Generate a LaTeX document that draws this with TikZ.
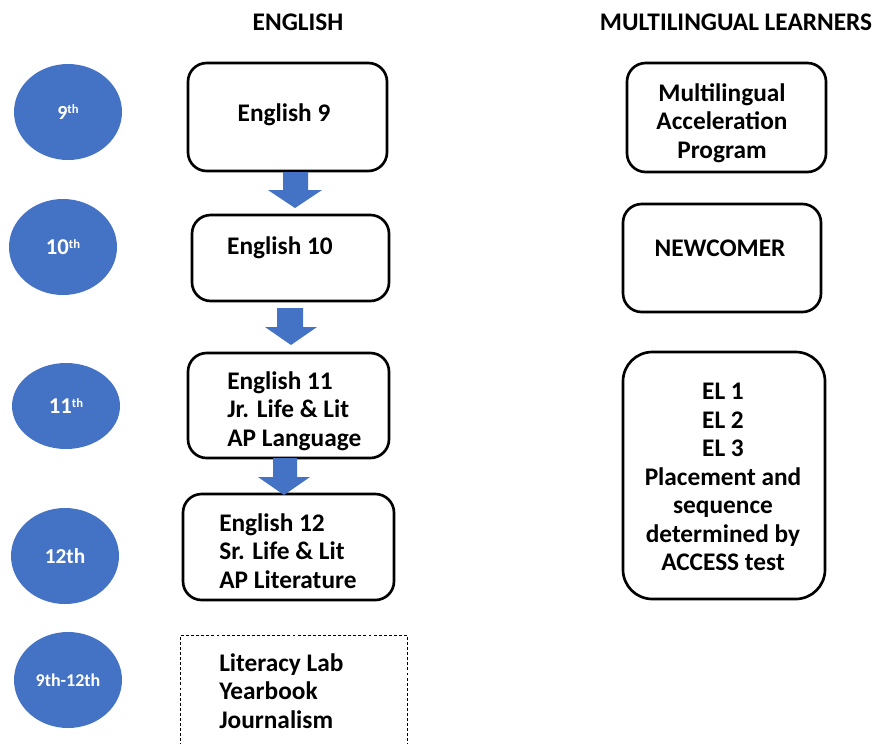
\documentclass[tikz,border=0pt]{standalone}
\usepackage{fontspec}
\setmainfont{Carlito}
\usetikzlibrary{shapes.geometric}
\definecolor{cblue}{HTML}{4472C4}
\newcommand{\supth}{\raisebox{0.6ex}{\fontsize{9.5}{10}\selectfont th}}
\begin{document}
\begin{tikzpicture}[x=0.75pt,y=-0.75pt,
  grade/.style={ellipse, fill=cblue, draw=none, text=white, inner sep=0pt,
    minimum width=81pt, minimum height=72pt, font=\bfseries\fontsize{17}{18}\selectfont},
  box/.style={draw=black, line width=2pt, rounded corners=14pt, inner sep=0pt},
  txt/.style={font=\bfseries\fontsize{19}{21.4}\selectfont, inner sep=0pt},
  title/.style={font=\bfseries\fontsize{19}{21}\selectfont, inner sep=0pt},
  blockarrow/.style={fill=cblue, draw=none}]
\useasboundingbox[fill=white] (0,0) rectangle (881,743);

% titles
\node[title] (t1) at (298,22) {ENGLISH};
\node[title] (t2) at (736,22) {MULTILINGUAL LEARNERS};

% grade circles
\node[grade, font=\bfseries\fontsize{15}{16}\selectfont] (g9) at (68,112) {9\supth};
\node[grade] (g10) at (63,247) {10\supth};
\node[grade, minimum height=64.5pt] (g11) at (66,406) {11\supth};
\node[grade, font=\bfseries\fontsize{16}{17}\selectfont] (g12) at (65,556) {12th};
\node[grade, font=\bfseries\fontsize{13.5}{14}\selectfont] (g912) at (68,680) {9th-12th};

% English boxes
\node[box, minimum width=149.25pt, minimum height=81pt] (e9) at (287.5,117) {};
\node[box, minimum width=147.75pt, minimum height=64.5pt] (e10) at (290.5,258) {};
\node[box, minimum width=150.75pt, minimum height=78.75pt] (e11) at (288.5,405.5) {};
\node[box, minimum width=158.25pt, minimum height=79.5pt] (e12) at (288.5,547) {};
\node[draw=black, line width=0.6pt, dash pattern=on 2.2pt off 1.6pt, inner sep=0pt,
      minimum width=170.25pt, minimum height=84pt, anchor=north west] (lab) at (180,635) {};

\node[txt] (e9t) at (284,115) {English 9};
\node[txt] (e10t) at (280,248) {English 10};
\node[txt, align=left, anchor=west] (e11t) at (227,411) {English 11\\Jr. Life \& Lit\\AP Language};
\node[txt, align=left, anchor=west] (e12t) at (219,551) {English 12\\Sr. Life \& Lit\\AP Literature};
\node[txt, align=left, anchor=west] (labt) at (219,691) {Literacy Lab\\Yearbook\\Journalism};

% block arrows
\fill[blockarrow] (283,172) -- (308,172) -- (308,190) -- (322,190) -- (295,208) -- (268,190) -- (283,190) -- cycle;
\fill[blockarrow] (277,308) -- (303,308) -- (303,327) -- (317,327) -- (291,345) -- (265,327) -- (277,327) -- cycle;
\fill[blockarrow] (273,458) -- (297,458) -- (297,477) -- (310,477) -- (284,495) -- (258,477) -- (273,477) -- cycle;

% Multilingual boxes
\node[box, minimum width=149.25pt, minimum height=81.75pt] (map) at (726.5,117.5) {};
\node[box, minimum width=148.5pt, minimum height=81pt] (new) at (722,258) {};
\node[box, minimum width=151.5pt, minimum height=185.25pt, rounded corners=22pt] (el) at (724,475.5) {};

\node[txt, align=center] (mapt) at (722,123) {Multilingual\\Acceleration\\Program};
\node[txt] (newt) at (720,248) {NEWCOMER};
\node[txt, align=center] (elt) at (723,477) {EL 1\\EL 2\\EL 3\\Placement and\\sequence\\determined by\\ACCESS test};
\end{tikzpicture}
\end{document}
